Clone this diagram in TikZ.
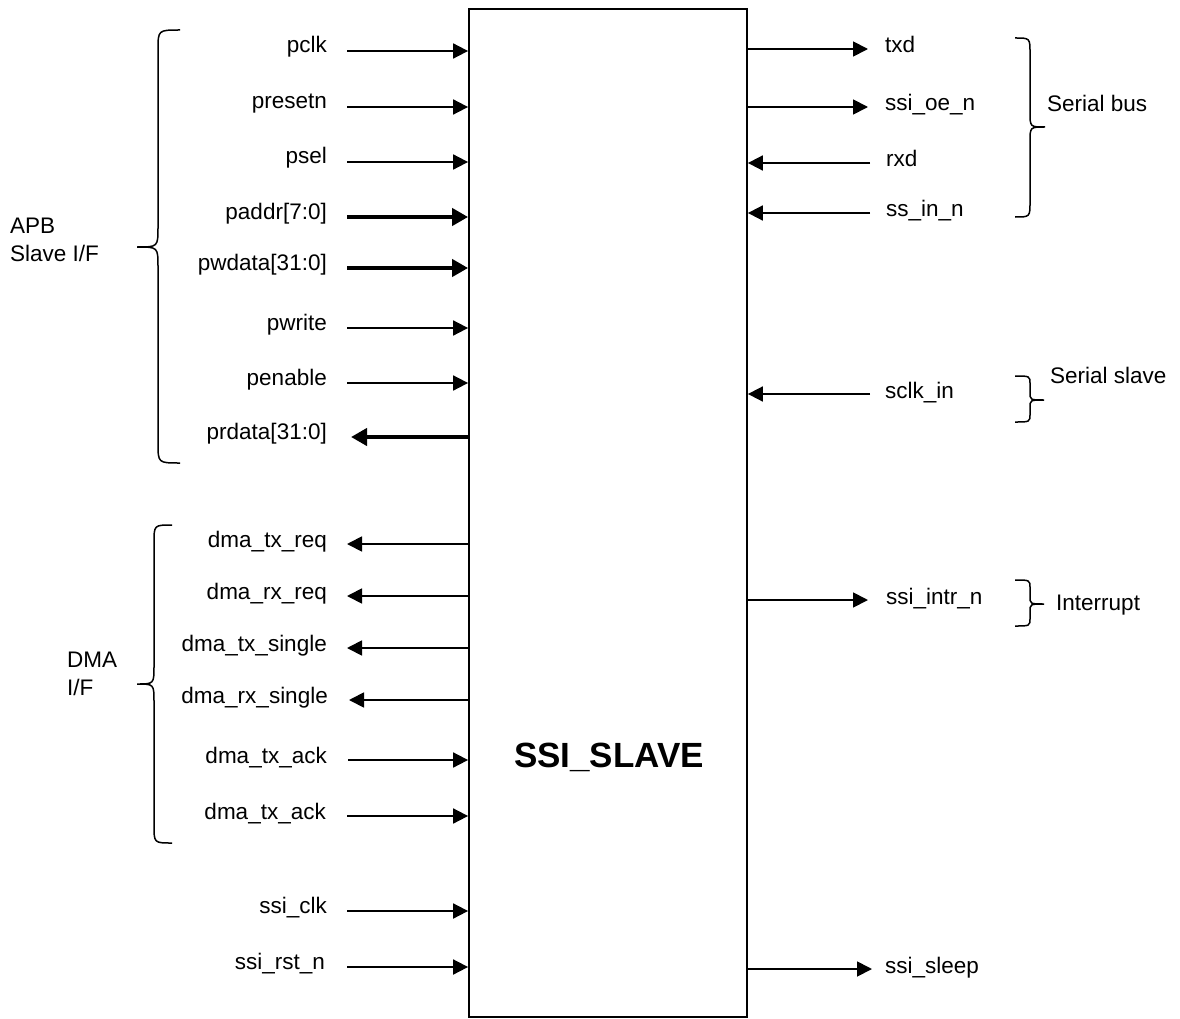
\documentclass[tikz,border=0pt]{standalone}
\usepackage{fontspec}
\setmainfont{Liberation Sans}
\usepackage{tikz}
\usetikzlibrary{arrows.meta}

\begin{document}
\begin{tikzpicture}[x=1pt, y=-1pt,
    box/.style={draw, line width=1.8pt, inner sep=0pt, minimum width=278pt,
                minimum height=1008pt},
    sig/.style={font=\fontsize{22.5}{28}\selectfont, inner sep=0pt, align=left},
    title/.style={font=\fontsize{35}{40}\selectfont\bfseries, inner sep=0pt},
    arr/.style={-{Triangle[length=15pt, width=15pt]}, line width=1.8pt},
    bus/.style={-{Triangle[length=16pt, width=17pt]}, line width=4.5pt},
    brc/.style={line width=1.5pt}
  ]
    \useasboundingbox (0,0) rectangle (1180,1019);
    \node[box] (ssi) at (608,513) {};
    \node[title, anchor=base] (name) at (609,767) {SSI\_SLAVE};
    % APB inputs (left)
    \node[sig, anchor=base east] (pclk) at (327,53) {pclk};
    \node[sig, anchor=base east] (presetn) at (327,109) {presetn};
    \node[sig, anchor=base east] (psel) at (327,164) {psel};
    \node[sig, anchor=base east] (paddr) at (327,219) {paddr[7:0]};
    \node[sig, anchor=base east] (pwdata) at (327,270) {pwdata[31:0]};
    \node[sig, anchor=base east] (pwrite) at (327,330) {pwrite};
    \node[sig, anchor=base east] (penable) at (327,385) {penable};
    \node[sig, anchor=base east] (prdata) at (327,439) {prdata[31:0]};
    \coordinate (pclk-e) at (347,51);
    \coordinate (presetn-e) at (347,107);
    \coordinate (psel-e) at (347,162);
    \coordinate (paddr-e) at (347,217);
    \coordinate (pwdata-e) at (347,268);
    \coordinate (pwrite-e) at (347,328);
    \coordinate (penable-e) at (347,383);
    \coordinate (prdata-e) at (351,437);
    % DMA interface (left)
    \node[sig, anchor=base east] (txreq) at (327,547) {dma\_tx\_req};
    \node[sig, anchor=base east] (rxreq) at (327,599) {dma\_rx\_req};
    \node[sig, anchor=base east] (txsingle) at (327,651) {dma\_tx\_single};
    \node[sig, anchor=base east] (rxsingle) at (328,703) {dma\_rx\_single};
    \node[sig, anchor=base east] (txack) at (327,763) {dma\_tx\_ack};
    \node[sig, anchor=base east] (txack2) at (326,819) {dma\_tx\_ack};
    \coordinate (txreq-e) at (347,544);
    \coordinate (rxreq-e) at (347,596);
    \coordinate (txsingle-e) at (347,648);
    \coordinate (rxsingle-e) at (349,700);
    \coordinate (txack-e) at (348,760);
    \coordinate (txack2-e) at (347,816);
    % clock and reset
    \node[sig, anchor=base east] (sclk) at (327,913) {ssi\_clk};
    \node[sig, anchor=base east] (srst) at (325,969) {ssi\_rst\_n};
    \coordinate (sclk-e) at (347,911);
    \coordinate (srst-e) at (347,967);
    % Serial side (right)
    \node[sig, anchor=base west] (txd) at (885,53) {txd};
    \node[sig, anchor=base west] (oen) at (885,111) {ssi\_oe\_n};
    \node[sig, anchor=base west] (rxd) at (886,167) {rxd};
    \node[sig, anchor=base west] (ssin) at (886,217) {ss\_in\_n};
    \node[sig, anchor=base west] (sclkin) at (885,398) {sclk\_in};
    \node[sig, anchor=base west] (intr) at (886,604) {ssi\_intr\_n};
    \node[sig, anchor=base west] (sleep) at (885,973) {ssi\_sleep};
    \coordinate (txd-e) at (868,49);
    \coordinate (oen-e) at (868,107);
    \coordinate (rxd-e) at (870,163);
    \coordinate (ssin-e) at (870,213);
    \coordinate (sclkin-e) at (870,394);
    \coordinate (intr-e) at (868,600);
    \coordinate (sleep-e) at (872,969);
    % Arrows
    \draw[arr] (pclk-e) -- (pclk-e -| ssi.west);
    \draw[arr] (presetn-e) -- (presetn-e -| ssi.west);
    \draw[arr] (psel-e) -- (psel-e -| ssi.west);
    \draw[bus] (paddr-e) -- (paddr-e -| ssi.west);
    \draw[bus] (pwdata-e) -- (pwdata-e -| ssi.west);
    \draw[arr] (pwrite-e) -- (pwrite-e -| ssi.west);
    \draw[arr] (penable-e) -- (penable-e -| ssi.west);
    \draw[bus] (prdata-e -| ssi.west) -- (prdata-e);
    \draw[arr] (txreq-e -| ssi.west) -- (txreq-e);
    \draw[arr] (rxreq-e -| ssi.west) -- (rxreq-e);
    \draw[arr] (txsingle-e -| ssi.west) -- (txsingle-e);
    \draw[arr] (rxsingle-e -| ssi.west) -- (rxsingle-e);
    \draw[arr] (txack-e) -- (txack-e -| ssi.west);
    \draw[arr] (txack2-e) -- (txack2-e -| ssi.west);
    \draw[arr] (sclk-e) -- (sclk-e -| ssi.west);
    \draw[arr] (srst-e) -- (srst-e -| ssi.west);
    \draw[arr] (txd-e -| ssi.east) -- (txd-e);
    \draw[arr] (oen-e -| ssi.east) -- (oen-e);
    \draw[arr] (rxd-e) -- (rxd-e -| ssi.east);
    \draw[arr] (ssin-e) -- (ssin-e -| ssi.east);
    \draw[arr] (sclkin-e) -- (sclkin-e -| ssi.east);
    \draw[arr] (intr-e -| ssi.east) -- (intr-e);
    \draw[arr] (sleep-e -| ssi.east) -- (sleep-e);
    % Braces and group names
    \draw[brc] (180,30) .. controls (158,30) .. (158,50) -- (158,227)
      .. controls (158,247) .. (137,247) .. controls (158,247) .. (158,267)
      -- (158,443) .. controls (158,463) .. (180,463);
    \node[sig, anchor=north west] (apb) at (10,218) {APB\\Slave I/F};
    \draw[brc] (172,525) .. controls (154,525) .. (154,543) -- (154,666)
      .. controls (154,684) .. (137,684) .. controls (154,684) .. (154,702)
      -- (154,825) .. controls (154,843) .. (172,843);
    \node[sig, anchor=north west] (dma) at (67,652) {DMA\\I/F};
    \draw[brc] (1015,38) .. controls (1030,38) .. (1030,53) -- (1030,112)
      .. controls (1030,127) .. (1045,127) .. controls (1030,127) .. (1030,142)
      -- (1030,202) .. controls (1030,217) .. (1015,217);
    \node[sig, anchor=base west] (serbus) at (1047,112) {Serial bus};
    \draw[brc] (1015,376) .. controls (1030,376) .. (1030,384) -- (1030,392)
      .. controls (1030,400) .. (1044,400) .. controls (1030,400) .. (1030,408)
      -- (1030,414) .. controls (1030,422) .. (1015,422);
    \node[sig, anchor=base west] (serslv) at (1050,383) {Serial slave};
    \draw[brc] (1015,580) .. controls (1030,580) .. (1030,588) -- (1030,596)
      .. controls (1030,604) .. (1044,604) .. controls (1030,604) .. (1030,612)
      -- (1030,618) .. controls (1030,626) .. (1015,626);
    \node[sig, anchor=base west] (irq) at (1056,610) {Interrupt};
\end{tikzpicture}
\end{document}
